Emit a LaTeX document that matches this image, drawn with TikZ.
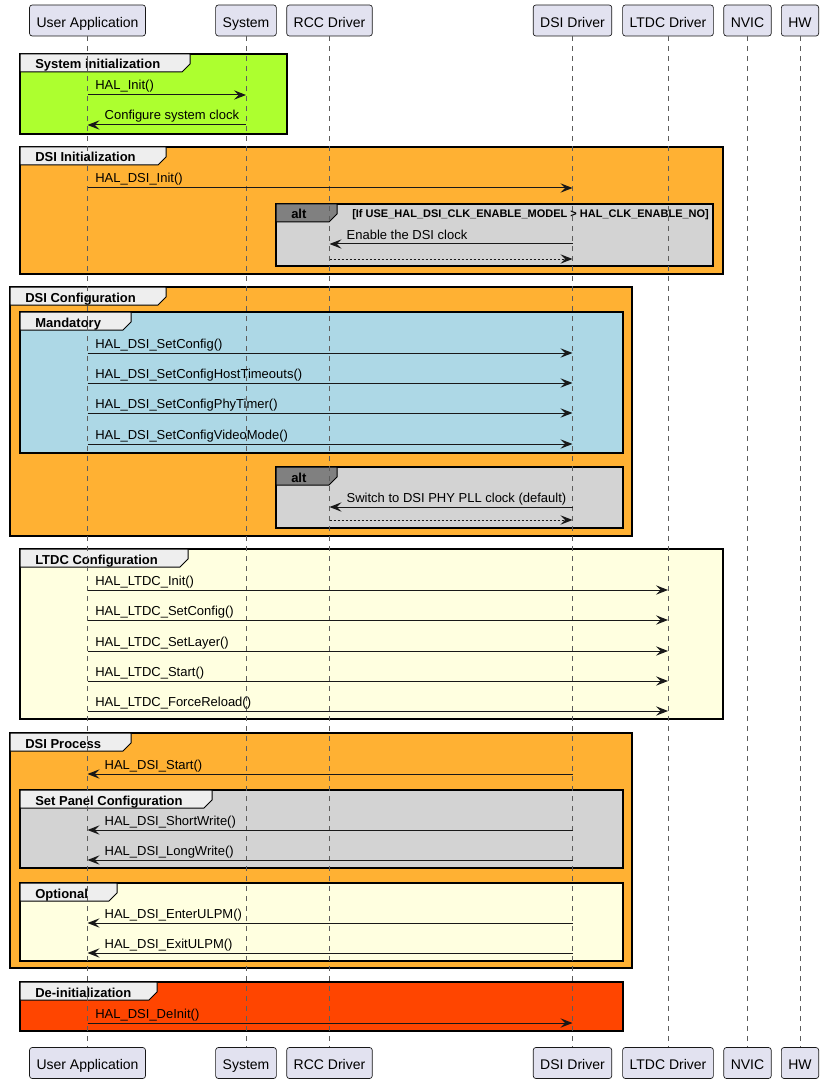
\documentclass[tikz,border=0pt]{standalone}
\usepackage{fontspec}
\setmainfont{Liberation Sans}
\usetikzlibrary{arrows.meta}

\definecolor{partfill}{HTML}{E2E2F0}
\definecolor{linec}{HTML}{181818}
\definecolor{tabfill}{HTML}{EEEEEE}
\definecolor{altfill}{HTML}{808080}
\definecolor{initgreen}{HTML}{ADFF2F}
\definecolor{dsiorange}{HTML}{FFB133}
\definecolor{mandblue}{HTML}{ADD8E6}
\definecolor{panelgray}{HTML}{D3D3D3}
\definecolor{ltdcyellow}{HTML}{FFFFE0}
\definecolor{deinitred}{HTML}{FF4500}

\newcommand{\msgfont}{\fontsize{9.75}{12}\selectfont}

% name, fill, tab fill, x0, y0, x1, y1, tab right, title
\newcommand{\grpbox}[9]{%
  \filldraw[frame, fill=#2] (#4,#5) rectangle (#6,#7);
  \filldraw[tab, fill=#3] (#4,#5) -- (#8,#5) -- (#8,#5+10) -- (#8-8,#5+18) -- (#4,#5+18) -- cycle;
  \node[grptitle] (#1) at (#4+15,#5+15) {#9};}

\begin{document}
\begin{tikzpicture}[x=0.75pt,y=-0.75pt,
  part/.style={draw=linec,fill=partfill,rounded corners=2pt,line width=0.5pt,
    minimum height=23.25pt,inner xsep=5.25pt,text height=10.2pt,text depth=0pt,
    font=\fontsize{10.5}{12}\selectfont},
  life/.style={draw=linec!70,line width=0.6pt,dash pattern=on 3.75pt off 3.75pt},
  frame/.style={draw=black,line width=1.1pt},
  tab/.style={draw=black,line width=0.75pt},
  grptitle/.style={anchor=base west,inner sep=0pt,font=\fontsize{9.75}{12}\selectfont\bfseries},
  cond/.style={anchor=base west,inner sep=0pt,font=\fontsize{8.25}{10}\selectfont\bfseries},
  msg/.style={draw=linec,line width=0.75pt,-{Stealth[length=9pt,width=7pt,inset=3.4pt]}},
  bmsg/.style={msg,{Stealth[length=9pt,width=7pt,inset=3.4pt]}-},
  ret/.style={msg,dash pattern=on 1.5pt off 1.5pt},
  fwd/.style={pos=0,anchor=base west,inner sep=0pt,xshift=5.5pt,yshift=3.75pt,font=\msgfont},
  back/.style={fwd,xshift=7pt}]

  \useasboundingbox (0,0) rectangle (823,1084);

  % participants, top and bottom
  \foreach \n/\x/\t in {ua/87.5/User Application, sys/246/System, rcc/329.5/RCC Driver,
      dsi/572.5/DSI Driver, ltdc/668/LTDC Driver, nvic/747.5/NVIC, hw/800/HW} {
    \node[part] (\n) at (\x,20.5) {\t};
    \node[part] (\n-b) at (\x,1063) {\t};
  }

  % groups
  \grpbox{g-init}{initgreen}{tabfill}{20}{54}{287}{134}{190}{System initialization}
  \grpbox{g-dsiinit}{dsiorange}{tabfill}{20}{147}{723}{274}{166}{DSI Initialization}
  \grpbox{g-alt1}{panelgray}{altfill}{276}{204}{713}{266}{337}{alt}
  \node[cond] (c-alt1) at (352,217.5) {[If USE\_HAL\_DSI\_CLK\_ENABLE\_MODEL > HAL\_CLK\_ENABLE\_NO]};
  \grpbox{g-dsicfg}{dsiorange}{tabfill}{10}{287}{632}{536}{166}{DSI Configuration}
  \grpbox{g-mand}{mandblue}{tabfill}{20}{312}{623}{453}{131}{Mandatory}
  \grpbox{g-alt2}{panelgray}{altfill}{276}{467}{623}{528}{337}{alt}
  \grpbox{g-ltdc}{ltdcyellow}{tabfill}{20}{549}{723}{719}{188}{LTDC Configuration}
  \grpbox{g-proc}{dsiorange}{tabfill}{10}{733}{632}{968}{131}{DSI Process}
  \grpbox{g-panel}{panelgray}{tabfill}{20}{790}{623}{868}{212}{Set Panel Configuration}
  \grpbox{g-opt}{ltdcyellow}{tabfill}{20}{883}{623}{961}{117}{Optional}
  \grpbox{g-deinit}{deinitred}{tabfill}{20}{982}{623}{1031}{157}{De-initialization}

  % lifelines
  \foreach \n in {ua,sys,rcc,dsi,ltdc,nvic,hw}
    \draw[life] (\n) -- (\n-b);

  % messages
  \draw[msg] (ua |- 0,95) -- node[fwd] {HAL\_Init()} (sys |- 0,95);
  \draw[bmsg] (ua |- 0,125) -- node[back] {Configure system clock} (sys |- 0,125);
  \draw[msg] (ua |- 0,188) -- node[fwd] {HAL\_DSI\_Init()} (dsi |- 0,188);
  \draw[bmsg] (rcc |- 0,244) -- node[back] {Enable the DSI clock} (dsi |- 0,244);
  \draw[ret] (rcc |- 0,259) -- (dsi |- 0,259);
  \foreach \y/\t in {353/SetConfig, 383/SetConfigHostTimeouts, 413/SetConfigPhyTimer, 444/SetConfigVideoMode}
    \draw[msg] (ua |- 0,\y) -- node[fwd] {HAL\_DSI\_\t()} (dsi |- 0,\y);
  \draw[bmsg] (rcc |- 0,507) -- node[back] {Switch to DSI PHY PLL clock (default)} (dsi |- 0,507);
  \draw[ret] (rcc |- 0,520) -- (dsi |- 0,520);
  \foreach \y/\t in {590/Init, 620/SetConfig, 651/SetLayer, 681/Start, 711/ForceReload}
    \draw[msg] (ua |- 0,\y) -- node[fwd] {HAL\_LTDC\_\t()} (ltdc |- 0,\y);
  \foreach \y/\t in {774/Start, 830/ShortWrite, 860/LongWrite, 923/EnterULPM, 953/ExitULPM}
    \draw[bmsg] (ua |- 0,\y) -- node[back] {HAL\_DSI\_\t()} (dsi |- 0,\y);
  \draw[msg] (ua |- 0,1023) -- node[fwd] {HAL\_DSI\_DeInit()} (dsi |- 0,1023);
\end{tikzpicture}
\end{document}
